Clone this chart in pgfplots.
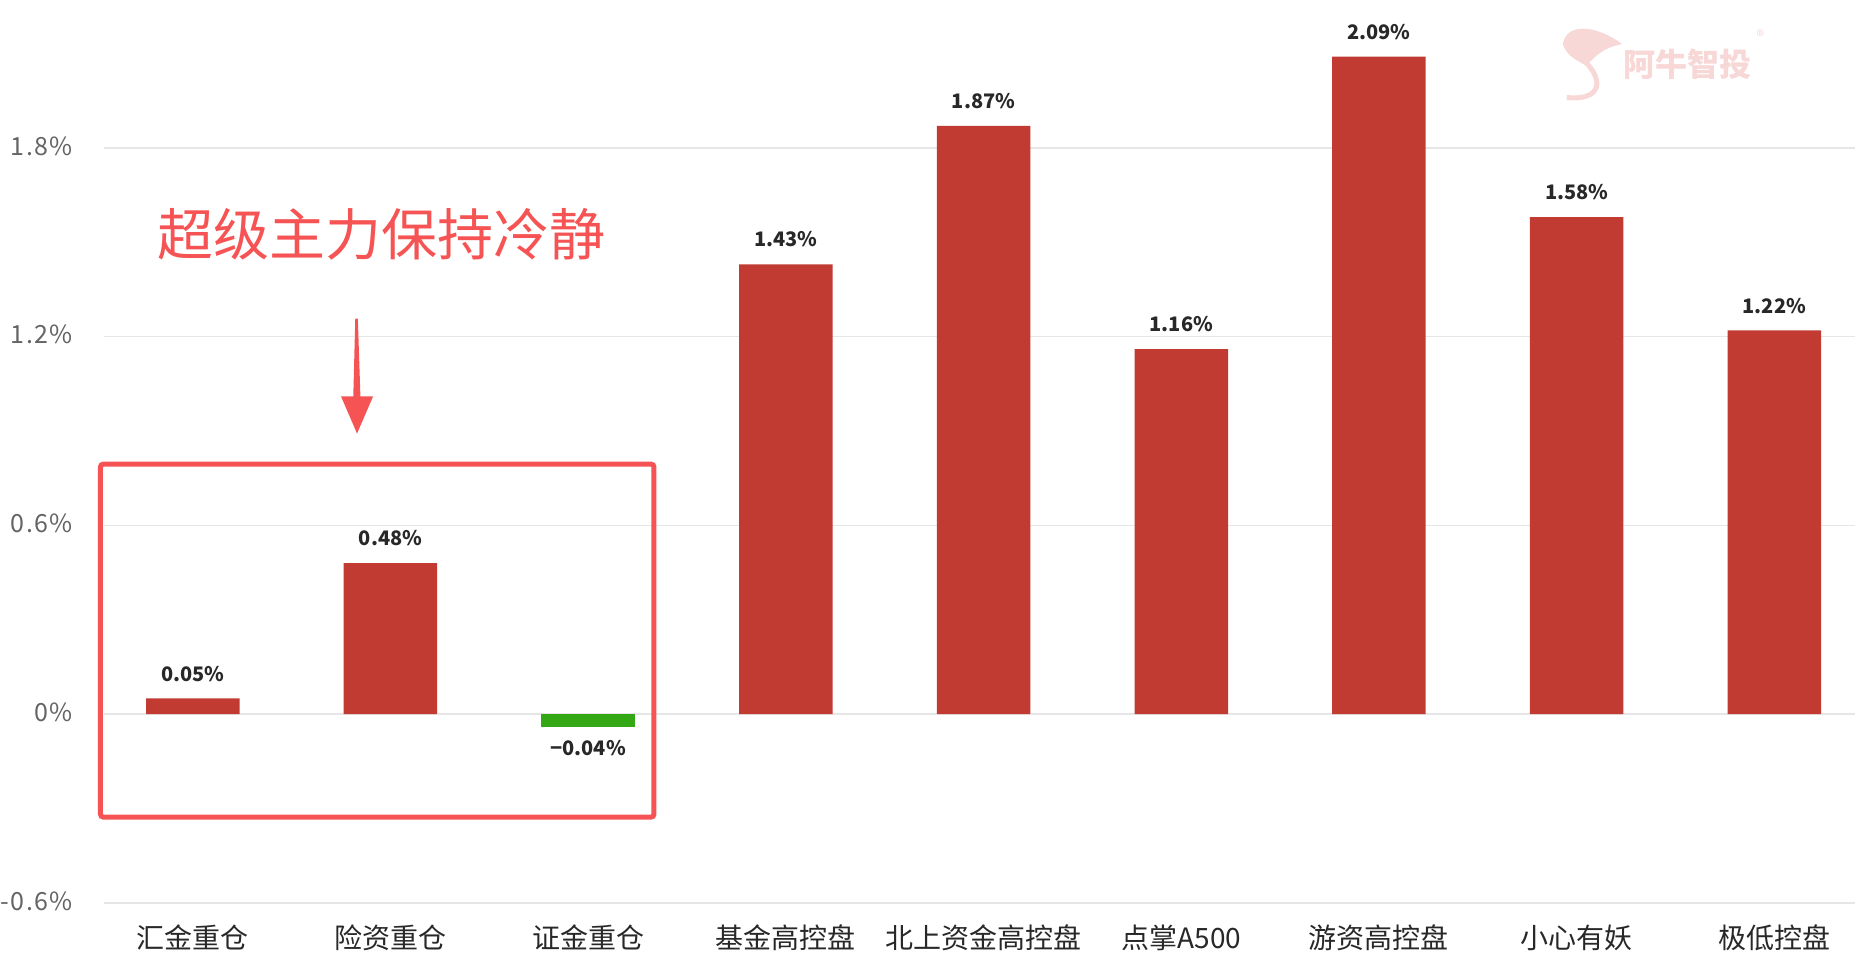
\documentclass[border=0pt]{standalone}
\usepackage{pgfplots}
\pgfplotsset{compat=1.18}
\usepackage{fontspec}
\setmainfont{Noto Sans CJK SC}
\definecolor{barred}{RGB}{194,59,51}
\definecolor{bargreen}{RGB}{52,168,20}
\definecolor{annored}{RGB}{246,84,84}
\definecolor{gridgray}{RGB}{230,230,230}
\definecolor{ticktext}{RGB}{100,100,100}
\definecolor{labeltext}{RGB}{40,40,40}
\definecolor{wmark}{RGB}{248,215,215}
\begin{document}
\begin{tikzpicture}
\begin{axis}[
  scale only axis,
  width=875.5pt, height=451.5pt,
  xmin=-0.449, xmax=8.408,
  ymin=-0.6, ymax=2.27,
  ybar, bar width=0.473, bar shift=0pt,
  axis line style={draw=none},
  major tick style={draw=none},
  ymajorgrids,
  grid style={line width=0.8pt, draw=gridgray},
  xtick={0,...,8},
  xticklabels={汇金重仓,险资重仓,证金重仓,基金高控盘,北上资金高控盘,点掌A500,游资高控盘,小心有妖,极低控盘},
  xticklabel style={font=\fontsize{14}{16}\selectfont, text=labeltext, yshift=-3pt},
  ytick={-0.6,0,0.6,1.2,1.8},
  yticklabels={-0.6\%,0\%,0.6\%,1.2\%,1.8\%},
  yticklabel style={font=\addfontfeatures{LetterSpace=6}\fontsize{12.5}{14}\selectfont, text=ticktext, xshift=-12pt, yshift=1pt},
  clip=false,
  point meta=explicit symbolic,
  nodes near coords,
  nodes near coords style={font=\bfseries\fontsize{10}{12}\selectfont, text=labeltext},
]
\addplot[fill=barred, draw=none, nodes near coords style={yshift=5pt}] coordinates {
  (0,0.05) [0.05\%]
  (1,0.48) [0.48\%]
  (3,1.43) [1.43\%]
  (4,1.87) [1.87\%]
  (5,1.16) [1.16\%]
  (6,2.09) [2.09\%]
  (7,1.58) [1.58\%]
  (8,1.22) [1.22\%]
};
\addplot[fill=bargreen, draw=none, nodes near coords style={anchor=north, yshift=-3pt}] coordinates {
  (2,-0.04) [−0.04\%]
};

% annotation
\draw[annored, line width=2.5pt, rounded corners=1.5pt]
  (axis cs:-0.467,0.795) rectangle (axis cs:2.333,-0.327);
\node[text=annored, font=\fontsize{28}{30}\selectfont] at (axis cs:0.954,1.524) {超级主力保持冷静};
\fill[annored] (axis cs:0.822,1.257) -- (axis cs:0.835,1.257)
  -- (axis cs:0.848,1.01) -- (axis cs:0.912,1.01)
  -- (axis cs:0.831,0.892) -- (axis cs:0.75,1.01)
  -- (axis cs:0.812,1.01) -- cycle;

% watermark
\node[text=wmark, font=\bfseries\fontsize{16}{18}\selectfont] at (axis cs:7.56,2.067) {阿牛智投};
\node[text=wmark, font=\fontsize{8}{9}\selectfont] at (axis cs:7.93,2.155) {®};
\fill[wmark] (axis cs:6.93,2.13) .. controls (axis cs:6.95,2.2) and (axis cs:7.1,2.19) .. (axis cs:7.23,2.13)
  .. controls (axis cs:7.15,2.12) and (axis cs:7.1,2.1) .. (axis cs:7.05,2.06)
  .. controls (axis cs:7.0,2.08) and (axis cs:6.95,2.09) .. cycle;
\draw[wmark, line width=2.5pt] (axis cs:7.05,2.07) .. controls (axis cs:7.15,2.0) and (axis cs:7.1,1.95) .. (axis cs:6.95,1.96);
\end{axis}
\pgfresetboundingbox
\path[use as bounding box] (current axis.south west) ++(-52pt,-35pt) rectangle (current axis.north east);
\end{tikzpicture}
\end{document}
